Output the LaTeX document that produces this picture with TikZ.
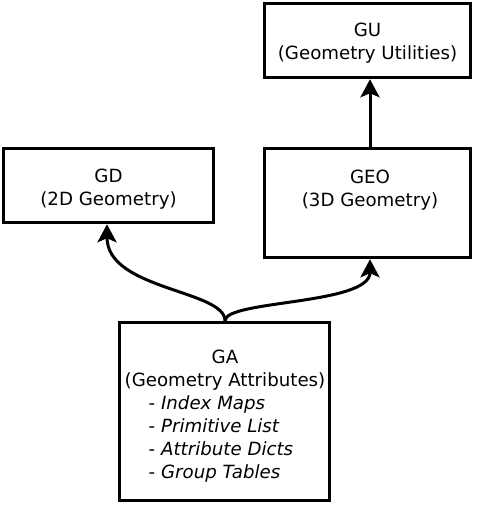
\documentclass[tikz,border=0pt]{standalone}
\usepackage{fontspec}
\setmainfont{DejaVu Sans}
\usetikzlibrary{arrows.meta}
\begin{document}
\begin{tikzpicture}[x=1pt,y=-1pt,
  box/.style={draw=black, line width=3.5pt, fill=white, inner sep=0pt},
  lbl/.style={font=\fontsize{18.2}{22.5}\selectfont, align=center, inner sep=0pt},
  conn/.style={line width=3pt, -{Stealth[length=18pt,width=19pt,inset=4pt]}}]
\useasboundingbox (0,0) rectangle (480,506);
\node[box, minimum width=206pt, minimum height=74pt] (gu) at (367.5,40.5) {};
\node[lbl] (gut) at (367.5,43) {GU\\(Geometry Utilities)};
\node[box, minimum width=210pt, minimum height=74pt] (gd) at (108.5,185.5) {};
\node[lbl] (gdt) at (108.5,189) {GD\\(2D Geometry)};
\node[box, minimum width=206pt, minimum height=109pt] (geo) at (367.5,203) {};
\node[lbl] (geot) at (370,190) {GEO\\(3D Geometry)};
\node[box, minimum width=210pt, minimum height=178pt] (ga) at (224.5,411.5) {};
\node[lbl, font=\fontsize{18.2}{23}\selectfont] (gat) at (225,416) {\begin{tabular}{@{}l@{}}
  \multicolumn{1}{@{}c@{}}{GA}\\
  \multicolumn{1}{@{}c@{}}{(Geometry Attributes)}\\
  \hspace{24pt}- \textit{Index Maps}\\
  \hspace{24pt}- \textit{Primitive List}\\
  \hspace{24pt}- \textit{Attribute Dicts}\\
  \hspace{24pt}- \textit{Group Tables}
  \end{tabular}};
\draw[conn] (geo.north -| 370,0) -- (gu.south -| 370,0);
\draw[conn] (ga.north -| 225,0) .. controls (225,290) and (107,290) .. (gd.south -| 107,0);
\draw[conn] (ga.north -| 225,0) .. controls (225,300) and (370,305) .. (geo.south -| 370,0);
\end{tikzpicture}
\end{document}
